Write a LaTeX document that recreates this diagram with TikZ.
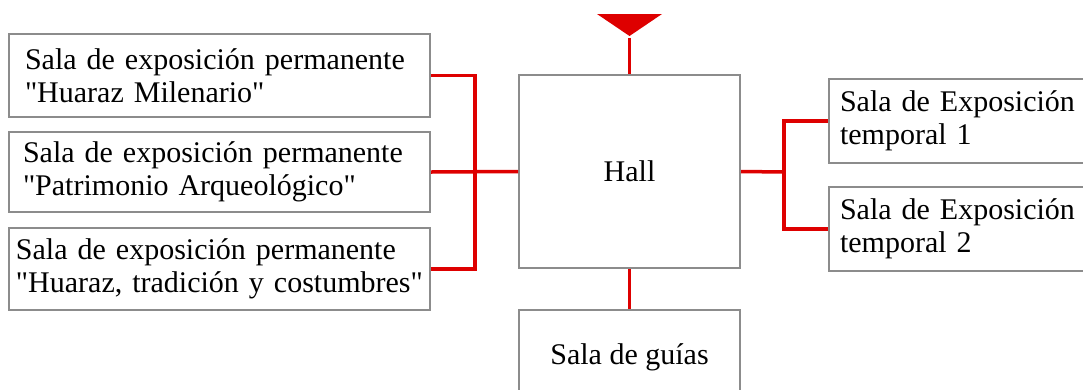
\documentclass[tikz,border=0pt]{standalone}
\usepackage{fontspec}
\setmainfont{Liberation Serif}[Ligatures=TeXOff]
\definecolor{boxgray}{RGB}{140,140,140}
\definecolor{linkred}{RGB}{222,0,0}
\tikzset{
  room/.style={draw=boxgray, line width=2pt, fill=white, inner ysep=0pt,
    font=\fontsize{30}{33}\selectfont, align=left},
  link/.style={draw=linkred, line width=3.5pt},
}
\begin{document}
\begin{tikzpicture}[x=1pt,y=-1pt]
\useasboundingbox (0,0) rectangle (1083,389);
\clip (0,0) rectangle (1083,389);
% left rooms
\node[room, minimum width=421pt, minimum height=83pt, inner xsep=16pt, text width=389pt] (p1) at (219.5,75.5)
  {\mbox{Sala de exposición permanente}\\\mbox{"Huaraz Milenario"}};
\node[room, minimum width=421pt, minimum height=80pt, inner xsep=14pt, text width=393pt] (p2) at (219.5,172)
  {\mbox{Sala de exposición permanente}\\\mbox{"Patrimonio Arqueológico"}};
\node[room, minimum width=421pt, minimum height=82pt, inner xsep=7pt, text width=407pt] (p3) at (219.5,269)
  {\mbox{Sala de exposición permanente}\\\mbox{"Huaraz, tradición y costumbres"}};
% hall
\node[room, minimum width=221pt, minimum height=193pt, align=center] (hall) at (629.5,171.5) {Hall};
% right rooms
\node[room, minimum width=265pt, minimum height=84pt, inner xsep=11pt, text width=243pt] (t1) at (961.5,121)
  {\mbox{Sala de Exposición}\\\mbox{temporal 1}};
\node[room, minimum width=265pt, minimum height=84pt, inner xsep=11pt, text width=243pt] (t2) at (961.5,229)
  {\mbox{Sala de Exposición}\\\mbox{temporal 2}};
% bottom room
\node[room, minimum width=221pt, minimum height=94pt, align=center] (guias) at (629.5,357) {Sala de guías};
% entrance marker
\fill[linkred] (597,14) -- (662,14) -- (629.5,36) -- cycle;
\coordinate (tip) at (629.5,38);
% connectors
\coordinate (jl) at (475,172);
\coordinate (jr) at (784,172);
\draw[link] (p1.east) -| (jl) |- (p3.east);
\draw[link] (p2.east) -- (hall.west);
\draw[link] (hall.east) -- (jr);
\draw[link] (t1.west) -| (jr) |- (t2.west);
\draw[link] (hall.south) -- (guias.north);
\draw[link] (tip) -- (hall.north);
\end{tikzpicture}
\end{document}
